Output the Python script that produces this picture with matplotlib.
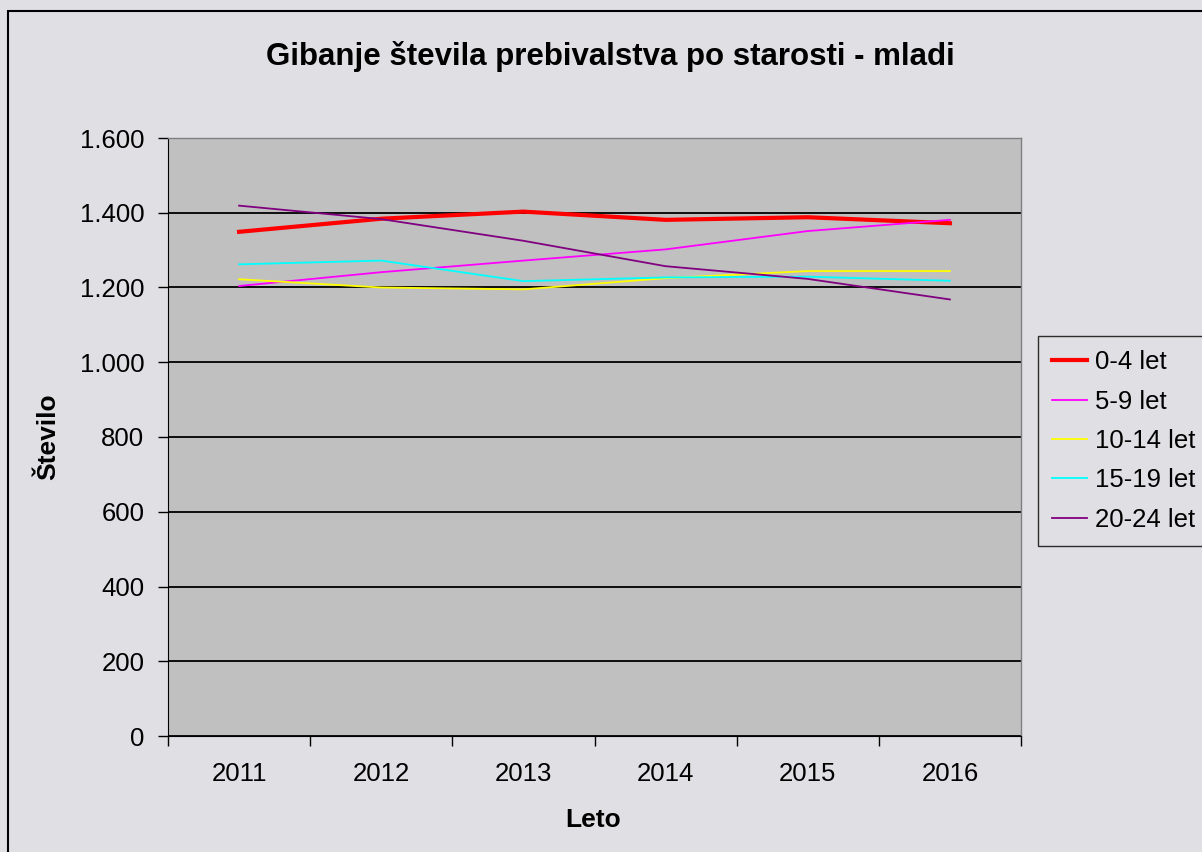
import numpy as np
import matplotlib.pyplot as plt
from matplotlib.patches import Rectangle
from matplotlib.ticker import FuncFormatter, FixedLocator

plt.rcParams['font.family'] = ['Liberation Sans', 'DejaVu Sans']

# podatki
leta = ['2011', '2012', '2013', '2014', '2015', '2016']
skupine = ['0-4 let', '5-9 let', '10-14 let', '15-19 let', '20-24 let']
v_0_4 = [1349, 1384, 1403, 1381, 1388, 1372]
v_5_9 = [1204, 1241, 1272, 1302, 1351, 1381]
v_10_14 = [1222, 1200, 1195, 1225, 1244, 1244]
v_15_19 = [1262, 1272, 1217, 1227, 1229, 1218]
v_20_24 = [1419, 1383, 1325, 1257, 1223, 1168]

vrednosti = [v_0_4, v_5_9, v_10_14, v_15_19, v_20_24]
barve = ['#FF0000', '#FF00FF', '#FFFF00', '#00FFFF', '#800080']
debeline = [3.0, 1.3, 1.3, 1.3, 1.3]

W, H = 1202, 852
fig = plt.figure(figsize=(W / 100, H / 100), dpi=100)
fig.patch.set_facecolor('#E0DFE3')

# okvir okoli slike
fig.patches.append(Rectangle((8 / W, -0.1), 1.2, 1 - 11 / H + 0.1, transform=fig.transFigure,
                             fill=False, edgecolor='black', linewidth=1.5))

ax = fig.add_axes([168 / W, 1 - 736 / H, (1021 - 168) / W, (736 - 138) / H])
ax.set_facecolor('#C0C0C0')

x = np.arange(len(leta))
for vals, barva, lw, ime in zip(vrednosti, barve, debeline, skupine):
    ax.plot(x, vals, color=barva, linewidth=lw, label=ime, zorder=3)

ax.set_xlim(-0.5, len(leta) - 0.5)
ax.set_ylim(0, 1600)
ax.set_yticks(np.arange(0, 1601, 200))
ax.yaxis.set_major_formatter(FuncFormatter(lambda v, p: f'{int(v):,}'.replace(',', '.')))
ax.grid(axis='y', color='black', linewidth=1.3, zorder=1)
ax.set_axisbelow(True)

ax.set_xticks(x)
ax.set_xticklabels(leta)
ax.xaxis.set_minor_locator(FixedLocator(np.arange(-0.5, len(leta), 1.0)))
ax.tick_params(axis='x', which='major', length=0, pad=19, labelsize=18.5)
ax.tick_params(axis='x', which='minor', length=7, width=1, color='black')
ax.tick_params(axis='y', length=7, width=1, color='black', labelsize=18.5, pad=10)

for s in ['top', 'right']:
    ax.spines[s].set_color('#808080')
    ax.spines[s].set_linewidth(1)
ax.spines['left'].set_color('black')
ax.spines['bottom'].set_color('black')

fig.text(593 / W, 1 - 820 / H, 'Leto', ha='center', va='center', fontsize=19, fontweight='bold')
fig.text(48 / W, 1 - 437 / H, 'Število', ha='center', va='center', rotation=90,
         fontsize=19, fontweight='bold')
fig.text(610 / W, 1 - 57 / H, 'Gibanje števila prebivalstva po starosti - mladi',
         ha='center', va='center', fontsize=22.5, fontweight='bold')

leg = fig.legend(loc='upper left', bbox_to_anchor=(1038 / W, 1 - 336 / H),
                 fontsize=18.5, frameon=True, fancybox=False, handlelength=1.35,
                 borderpad=0.55, labelspacing=0.6, handletextpad=0.3, borderaxespad=0)
leg.get_frame().set_edgecolor('black')
leg.get_frame().set_facecolor('#E0DFE3')
leg.get_frame().set_linewidth(1)

fig.savefig('out.png', dpi=100, facecolor=fig.get_facecolor())
